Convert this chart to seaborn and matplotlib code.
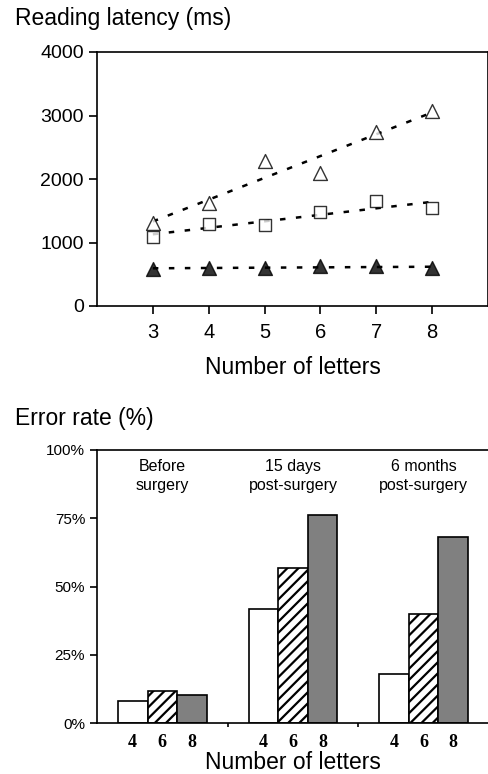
import numpy as np
import pandas as pd
import matplotlib
matplotlib.use("Agg")
import matplotlib.pyplot as plt
import seaborn as sns

# Reading latency (ms) by number of letters
letters = [3, 4, 5, 6, 7, 8]
latency_open_tri = [1307, 1627, 2283, 2100, 2745, 3076]
latency_square = [1081, 1291, 1270, 1475, 1654, 1538]
latency_filled_tri = [583, 603, 598, 625, 635, 593]

# Error rate (%) by session and number of letters
groups = ["Before\nsurgery", "15 days\npost-surgery", "6 months\npost-surgery"]
bar_letters = ["4", "6", "8"]
err_4 = [8.3, 41.9, 18.0]
err_6 = [11.9, 56.7, 40.1]
err_8 = [10.4, 76.2, 68.0]

sns.set_style("ticks")
plt.rcParams["font.family"] = ["Liberation Sans", "DejaVu Sans"]
plt.rcParams["hatch.linewidth"] = 1.6
plt.rcParams["axes.linewidth"] = 1.2
for k in ["text.color", "axes.labelcolor", "xtick.color", "ytick.color",
          "axes.edgecolor"]:
    plt.rcParams[k] = "black"

fig = plt.figure(figsize=(4.89, 7.74), dpi=100)
ax1 = fig.add_axes([97 / 489, 1 - 306 / 774, 391 / 489, 254 / 774])
ax2 = fig.add_axes([97 / 489, 1 - 723.3 / 774, 392 / 489, 273.3 / 774])

# ---- top: latency scatter with linear trend lines
dash = (0, (2.2, 4.2))
series = [
    (latency_open_tri, "^", "white", 100),
    (latency_square, "s", "white", 75),
    (latency_filled_tri, "^", "black", 100),
]
for vals, mk, fc, s in series:
    sns.regplot(x=letters, y=vals, ax=ax1, ci=None, marker=mk, color="black",
                scatter_kws=dict(facecolors=fc, edgecolors="black", s=s,
                                 linewidths=1.0, zorder=3),
                line_kws=dict(color="black", linestyle=dash, linewidth=1.8))

ax1.set_xlim(2, 9)
ax1.set_ylim(0, 4000)
ax1.set_xticks(letters)
ax1.set_yticks([0, 1000, 2000, 3000, 4000])
ax1.tick_params(axis="both", direction="out", length=6, width=1.2,
                labelsize=14)
ax1.tick_params(axis="x", labelsize=14.5, pad=6)
ax1.set_xlabel("Number of letters", fontsize=16.5, labelpad=10)
ax1.set_ylabel("")
for sp in ax1.spines.values():
    sp.set_visible(True)
fig.text(15 / 489, 1 - 18 / 774, "Reading latency (ms)", fontsize=16.5,
         ha="left", va="center")

# ---- bottom: error rate bars
df = pd.DataFrame({
    "group": np.repeat(groups, 3),
    "letters": bar_letters * 3,
    "rate": [v for trio in zip(err_4, err_6, err_8) for v in trio],
})
sns.barplot(data=df, x="group", y="rate", hue="letters", ax=ax2,
            palette=["white", "white", "#808080"], edgecolor="black",
            linewidth=1.2, width=0.68, legend=False, saturation=1)
for p in ax2.containers[1]:
    p.set_hatch("///")

centers, labels = [], []
for cont, lab in zip(ax2.containers, bar_letters):
    for p in cont:
        centers.append(p.get_x() + p.get_width() / 2)
        labels.append(lab)
order = np.argsort(centers)
ax2.set_xticks(np.array(centers)[order])
ax2.set_xticklabels(np.array(labels)[order], family="Liberation Serif",
                    fontweight="bold", fontsize=13)
ax2.set_xticks([0.5, 1.5], minor=True)
ax2.tick_params(axis="x", which="major", length=0, pad=8)
ax2.tick_params(axis="x", which="minor", direction="out", length=3, width=1.2)
ax2.set_xlim(-0.5, 2.5)
ax2.set_ylim(0, 100)
ax2.set_yticks([0, 25, 50, 75, 100])
ax2.set_yticklabels(["0%", "25%", "50%", "75%", "100%"], fontsize=11)
ax2.tick_params(axis="y", direction="out", length=5, width=1.2)
ax2.set_xlabel("Number of letters", fontsize=16.5, labelpad=0)
ax2.set_ylabel("")
for sp in ax2.spines.values():
    sp.set_visible(True)
ax2.spines["right"].set_visible(False)

for i, g in enumerate(groups):
    ax2.text(i, 90.5, g, ha="center", va="center", fontsize=11.5,
             linespacing=1.4)

fig.text(15 / 489, 1 - 419 / 774, "Error rate (%)", fontsize=16.5,
         ha="left", va="center")

fig.savefig("out.png", dpi=100)
